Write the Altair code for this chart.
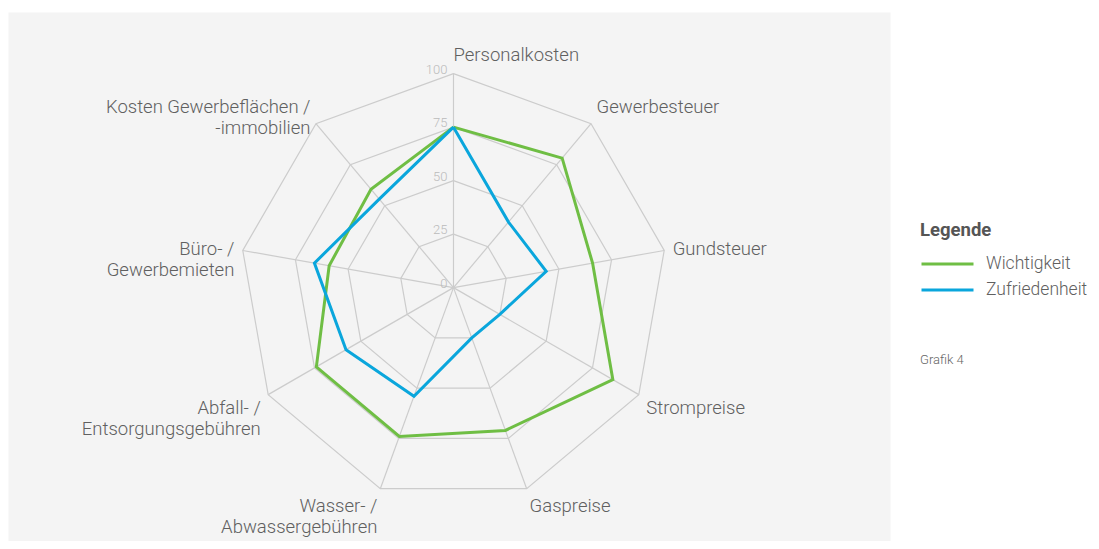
import altair as alt
import pandas as pd

# ---------------- data ----------------
categories = [
    "Personalkosten",
    "Gewerbesteuer",
    "Gundsteuer",
    "Strompreise",
    "Gaspreise",
    "Wasser- /\nAbwassergebühren",
    "Abfall- /\nEntsorgungsgebühren",
    "Büro- /\nGewerbemieten",
    "Kosten Gewerbeflächen /\n-immobilien",
]
wichtigkeit = [75, 79, 66, 86, 71, 74, 74, 59, 60]
zufriedenheit = [75, 40, 44, 25, 25, 54, 58, 66, 54]
series_names = ["Wichtigkeit", "Zufriedenheit"]
ring_ticks = [25, 50, 75, 100]
tick_values = [0, 25, 50, 75, 100]
tick_labels = ["0", "25", "50", "75", "100"]
footnote = "Grafik 4"

N = len(categories)
FONT = "Roboto"
GREEN = "#6fbe44"
BLUE = "#0aa6dc"
GRID = "#cccccc"
TEXT = "#606060"

# ---------------- tables ----------------
rows = []
for name, vals in zip(series_names, [wichtigkeit, zufriedenheit]):
    for i in range(N + 1):
        rows.append({"series": name, "idx": i, "r": vals[i % N]})
series_df = pd.DataFrame(rows)

ring_df = pd.DataFrame(
    [{"ring": t, "idx": i, "r": t} for t in ring_ticks for i in range(N + 1)]
)
spoke_df = pd.DataFrame([{"idx": i, "r": 100} for i in range(N)])
label_df = pd.DataFrame([{"idx": i, "r": 104, "label": c} for i, c in enumerate(categories)])
tick_df = pd.DataFrame({"idx": [0] * len(tick_values), "r": tick_values, "label": tick_labels})
foot_df = pd.DataFrame({"label": [footnote]})

XS = alt.Scale(domain=[-208.2, 204.0], nice=False, zero=False)
YS = alt.Scale(domain=[-118.4, 128.8], nice=False, zero=False)


def polar(chart):
    return chart.transform_calculate(
        ang=f"datum.idx * 2 * PI / {N}"
    ).transform_calculate(
        x="datum.r * sin(datum.ang)", y="datum.r * cos(datum.ang)",
        s="sin(datum.ang)", c="cos(datum.ang)"
    )


X = alt.X("x:Q", scale=XS, axis=None)
Y = alt.Y("y:Q", scale=YS, axis=None)

rings = polar(alt.Chart(ring_df)).mark_line(color=GRID, strokeWidth=1.2).encode(
    x=X, y=Y, detail="ring:N", order="idx:Q"
)

spokes = polar(alt.Chart(spoke_df)).transform_calculate(x0="0", y0="0").mark_rule(
    color=GRID, strokeWidth=1.2
).encode(
    x=alt.X("x0:Q", scale=XS, axis=None),
    y=alt.Y("y0:Q", scale=YS, axis=None),
    x2="x:Q",
    y2="y:Q",
)

lines = polar(alt.Chart(series_df)).mark_line(strokeWidth=3, strokeJoin="miter").encode(
    x=X,
    y=Y,
    order="idx:Q",
    color=alt.Color(
        "series:N",
        scale=alt.Scale(domain=series_names, range=[GREEN, BLUE]),
        legend=alt.Legend(
            title="Legende",
            orient="none",
            legendX=912,
            legendY=209,
            symbolType="M-1,0H3",
            symbolSize=676,
            symbolStrokeWidth=3,
            symbolFillColor="transparent",
            labelFont=FONT,
            labelFontSize=17.5,
            labelFontWeight=300,
            labelColor=TEXT,
            titleFont=FONT,
            titleFontSize=18.5,
            titleFontWeight="bold",
            titleColor="#555555",
            titlePadding=10,
            labelOffset=37,
            rowPadding=3,
        ),
    ),
)

tick_text = polar(alt.Chart(tick_df)).mark_text(
    align="right", baseline="bottom", dx=-6, dy=3, font=FONT, fontSize=13,
    fontWeight=300, color="#bbbbbb"
).encode(x=X, y=Y, text="label:N")

label_layers = []
groups = [
    ("left", "bottom", "datum.s >= -0.01 && datum.c > 0.6"),
    ("left", "middle", "datum.s >= -0.01 && datum.c <= 0.6 && datum.c >= -0.4"),
    ("left", "top", "datum.s >= -0.01 && datum.c < -0.4"),
    ("right", "bottom", "datum.s < -0.01 && datum.c > 0.6"),
    ("right", "middle", "datum.s < -0.01 && datum.c <= 0.6 && datum.c >= -0.4"),
    ("right", "top", "datum.s < -0.01 && datum.c < -0.4"),
]
for al, bl, cond in groups:
    label_layers.append(
        polar(alt.Chart(label_df)).transform_filter(cond).mark_text(
            align=al, baseline=bl, font=FONT, fontSize=18.5, fontWeight=300,
            color=TEXT, lineBreak="\n", lineHeight=21
        ).encode(x=X, y=Y, text="label:N")
    )

foot = alt.Chart(foot_df).mark_text(
    align="left", baseline="middle", font=FONT, fontSize=13, fontWeight=300,
    color="#666666"
).encode(x=alt.value(912), y=alt.value(348), text="label:N")

chart = alt.layer(rings, spokes, lines, tick_text, *label_layers, foot).properties(
    width=882,
    height=529,
    padding={"left": 0, "top": 4, "right": 200, "bottom": 0},
    autosize=alt.AutoSizeParams(type="none"),
    background="white",
).configure_view(fill="#f4f4f4", stroke="transparent")

chart.save("out.html", embed_options={"renderer": "svg", "actions": False})
